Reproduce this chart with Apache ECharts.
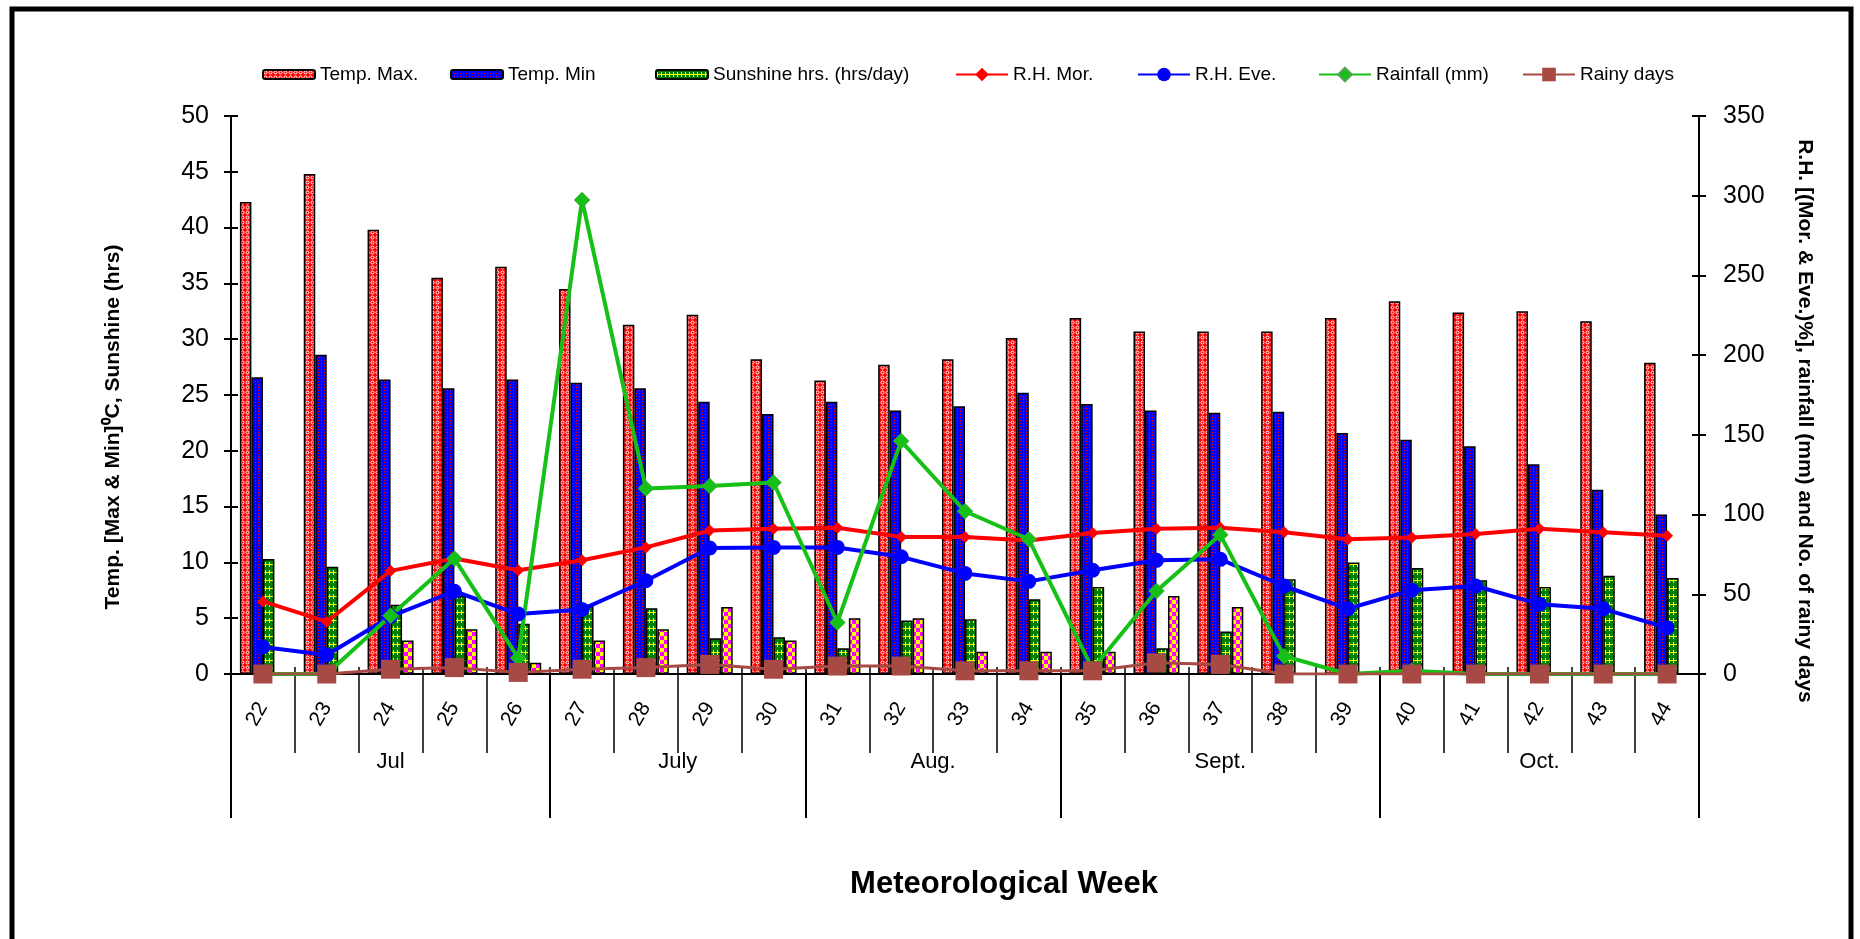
<!DOCTYPE html>
<html>
<head>
<meta charset="utf-8">
<script src="https://cdn.jsdelivr.net/npm/echarts@6/dist/echarts.min.js"></script>
<style>
html,body{margin:0;padding:0;background:#fff;}
#chart{width:1860px;height:939px;}
</style>
</head>
<body>
<div id="chart"></div>
<script>
// ---------- DATA ----------
const weeks = ['22','23','24','25','26','27','28','29','30','31','32','33','34','35','36','37','38','39','40','41','42','43','44'];
const months = ['Jul','July','Aug.','Sept.','Oct.'];
const monthWeekCounts = [5,4,4,5,5];
const tempMax = [42.3,44.8,39.8,35.5,36.5,34.5,31.3,32.2,28.2,26.3,27.7,28.2,30.1,31.9,30.7,30.7,30.7,31.9,33.4,32.4,32.5,31.6,27.9];
const tempMin = [26.6,28.6,26.4,25.6,26.4,26.1,25.6,24.4,23.3,24.4,23.6,24.0,25.2,24.2,23.6,23.4,23.5,21.6,21.0,20.4,18.8,16.5,14.3];
const sunshine = [10.3,9.6,6.2,7.0,4.5,6.1,5.9,3.2,3.3,2.3,4.8,4.9,6.7,7.8,2.3,3.8,8.5,10.0,9.5,8.4,7.8,8.8,8.6];
const rhMor = [45.5,32.8,64.7,72.4,65.1,71.3,79.4,90.0,91.1,91.7,86.0,86.0,83.8,88.4,91.1,91.7,88.9,84.5,85.6,87.8,91.1,88.9,86.7];
const rhEve = [16.9,11.9,36.1,51.9,37.6,40.5,58.5,79.0,79.4,79.4,73.5,63.1,58.1,65.1,71.3,71.9,55.2,40.9,52.6,55.2,43.8,40.9,29.0];
const rainfall = [0,0,36.5,72.4,10.1,297.3,116.4,117.9,120.1,32.3,146.1,102.1,84.5,3.1,52.1,87.3,11.2,0,2,0,0,0,0];
const rainyDays = [0,0,3,4,1,3,4,6,3,5,5,2,2,2,7,6,0,0,0,0,0,0,0];
const leftTicks = {min:0, max:50, interval:5};
const rightTicks = {min:0, max:350, interval:50};

// ---------- PATTERNS ----------
function pat(w,h,draw){const c=document.createElement('canvas');c.width=w;c.height=h;const g=c.getContext('2d');draw(g);return {image:c,repeat:'repeat'};}
const redPat = pat(5,5,g=>{g.fillStyle='#ff0000';g.fillRect(0,0,5,5);g.strokeStyle='#ffffff';g.lineWidth=1;g.beginPath();g.arc(2.5,2.5,1.5,0,Math.PI*2);g.stroke();});
const bluePat = pat(3,3,g=>{g.fillStyle='#0000ff';g.fillRect(0,0,3,3);g.fillStyle='#ff0000';g.fillRect(0,0,1,1);});
const greenPat = pat(8,8,g=>{g.fillStyle='#008000';g.fillRect(0,0,8,8);g.fillStyle='#ffff00';g.fillRect(0,4,8,1);g.fillRect(1,2,1,5);g.fillRect(5,2,1,5);});
const pinkPat = pat(8,8,g=>{g.fillStyle='#ffff00';g.fillRect(0,0,8,8);g.fillStyle='#ff00ff';g.fillRect(0,0,4,4);g.fillRect(4,4,4,4);});

// ---------- MONTH AXIS HELPERS ----------
const monthAxisData = new Array(weeks.length*2+1).fill('');
const monthBoundaries = new Set([0]);
const monthCenters = new Set();
let cum = 0;
months.forEach((m,i)=>{const c = cum*2 + monthWeekCounts[i]; monthAxisData[c]=m; monthCenters.add(c); cum += monthWeekCounts[i]; monthBoundaries.add(cum*2);});

const FONT = '"Liberation Sans", Arial, sans-serif';
const chart = echarts.init(document.getElementById('chart'));

const names = ['Temp. Max.','Temp. Min','Sunshine hrs. (hrs/day)','R.H. Mor.','R.H. Eve.','Rainfall (mm)','Rainy days'];
const legendLefts = [257,445,650,950,1132,1313,1517];
const legends = names.map((n,i)=>({
  data:[n], left:legendLefts[i], top:60, itemGap:5,
  itemWidth:52, itemHeight: i<3 ? 9 : 17,
  textStyle:{fontSize:19, fontFamily:FONT, color:'#000'}
}));

const barCommon = {type:'bar', barWidth:11.5, barGap:'0%', xAxisIndex:0, yAxisIndex:0};
const bStyle = c => ({color:c, borderColor:'#000', borderWidth:1.5});

chart.setOption({
  animation:false,
  backgroundColor:'#fff',
  legend: legends,
  grid:{left:231, right:161, top:116, bottom:265, containLabel:false},
  xAxis:[
    {type:'category', data:weeks, position:'bottom', boundaryGap:true,
     axisLine:{show:true, lineStyle:{color:'#000', width:2}},
     axisTick:{show:true, interval:0, length:79, lineStyle:{color:'#000', width:1.5}},
     axisLabel:{interval:0, rotate:60, margin:30, fontSize:21, fontFamily:FONT, color:'#000'}},
    {type:'category', data:monthAxisData, position:'bottom', boundaryGap:false,
     axisLine:{show:false},
     axisTick:{show:true, interval:(i)=>monthBoundaries.has(i), length:144, lineStyle:{color:'#000', width:2}},
     axisLabel:{interval:(i)=>monthCenters.has(i), margin:77, fontSize:22, fontFamily:FONT, color:'#000'}},
    {type:'category', data:weeks, position:'bottom', boundaryGap:true,
     axisLine:{show:false},
     axisTick:{show:true, inside:true, interval:0, length:7, lineStyle:{color:'#000', width:1.5}},
     axisLabel:{show:false}}
  ],
  yAxis:[
    {type:'value', position:'left', min:leftTicks.min, max:leftTicks.max, interval:leftTicks.interval,
     axisLine:{show:true, lineStyle:{color:'#000', width:2}},
     axisTick:{show:true, length:7, lineStyle:{color:'#000', width:2}},
     axisLabel:{margin:22, fontSize:25, fontFamily:FONT, color:'#000'},
     splitLine:{show:false}},
    {type:'value', position:'right', min:rightTicks.min, max:rightTicks.max, interval:rightTicks.interval,
     axisLine:{show:true, lineStyle:{color:'#000', width:2}},
     axisTick:{show:true, length:7, lineStyle:{color:'#000', width:2}},
     axisLabel:{margin:24, fontSize:25, fontFamily:FONT, color:'#000'},
     splitLine:{show:false}},
    {type:'value', position:'left', min:leftTicks.min, max:leftTicks.max, interval:leftTicks.interval,
     axisLine:{show:false}, axisTick:{show:true, inside:true, length:7, lineStyle:{color:'#000', width:2}},
     axisLabel:{show:false}, splitLine:{show:false}},
    {type:'value', position:'right', min:rightTicks.min, max:rightTicks.max, interval:rightTicks.interval,
     axisLine:{show:false}, axisTick:{show:true, inside:true, length:7, lineStyle:{color:'#000', width:2}},
     axisLabel:{show:false}, splitLine:{show:false}}
  ],
  series:[
    Object.assign({name:names[0], data:tempMax, itemStyle:bStyle(redPat)}, barCommon),
    Object.assign({name:names[1], data:tempMin, itemStyle:bStyle(bluePat)}, barCommon),
    Object.assign({name:names[2], data:sunshine, itemStyle:bStyle(greenPat)}, barCommon),
    Object.assign({name:'No. of rainy days (bars)', data:rainyDays, itemStyle:bStyle(pinkPat)}, barCommon),
    {name:names[3], type:'line', yAxisIndex:1, data:rhMor, symbol:'diamond', symbolSize:12,
     lineStyle:{color:'#ff0000', width:4}, itemStyle:{color:'#ff0000'}},
    {name:names[4], type:'line', yAxisIndex:1, data:rhEve, symbol:'circle', symbolSize:15,
     lineStyle:{color:'#0000ff', width:4}, itemStyle:{color:'#0000ff'}},
    {name:names[5], type:'line', yAxisIndex:1, data:rainfall, symbol:'diamond', symbolSize:16,
     lineStyle:{color:'#16c016', width:4}, itemStyle:{color:'#16c016', borderColor:'#55a055', borderWidth:0.5}},
    {name:names[6], type:'line', yAxisIndex:1, data:rainyDays, symbol:'rect', symbolSize:19,
     lineStyle:{color:'#a84a44', width:3}, itemStyle:{color:'#a84a44'}}
  ],
  graphic:[
    {type:'rect', shape:{x:12, y:9, width:1839, height:990}, style:{fill:'none', stroke:'#000', lineWidth:5}, silent:true},
    {type:'text', x:113, y:427, rotation:Math.PI/2,
     style:{text:'Temp. [Max & Min]\u2070C, Sunshine (hrs)', font:'bold 21px '+FONT, fill:'#000', textAlign:'center', textVerticalAlign:'middle'}},
    {type:'text', x:1805, y:421, rotation:-Math.PI/2,
     style:{text:'R.H. [(Mor. & Eve.)%], rainfall (mm) and No. of rainy days', font:'bold 21px '+FONT, fill:'#000', textAlign:'center', textVerticalAlign:'middle'}},
    {type:'text', x:1004, y:884,
     style:{text:'Meteorological Week', font:'bold 31px '+FONT, fill:'#000', textAlign:'center', textVerticalAlign:'middle'}}
  ]
});
</script>
</body>
</html>
